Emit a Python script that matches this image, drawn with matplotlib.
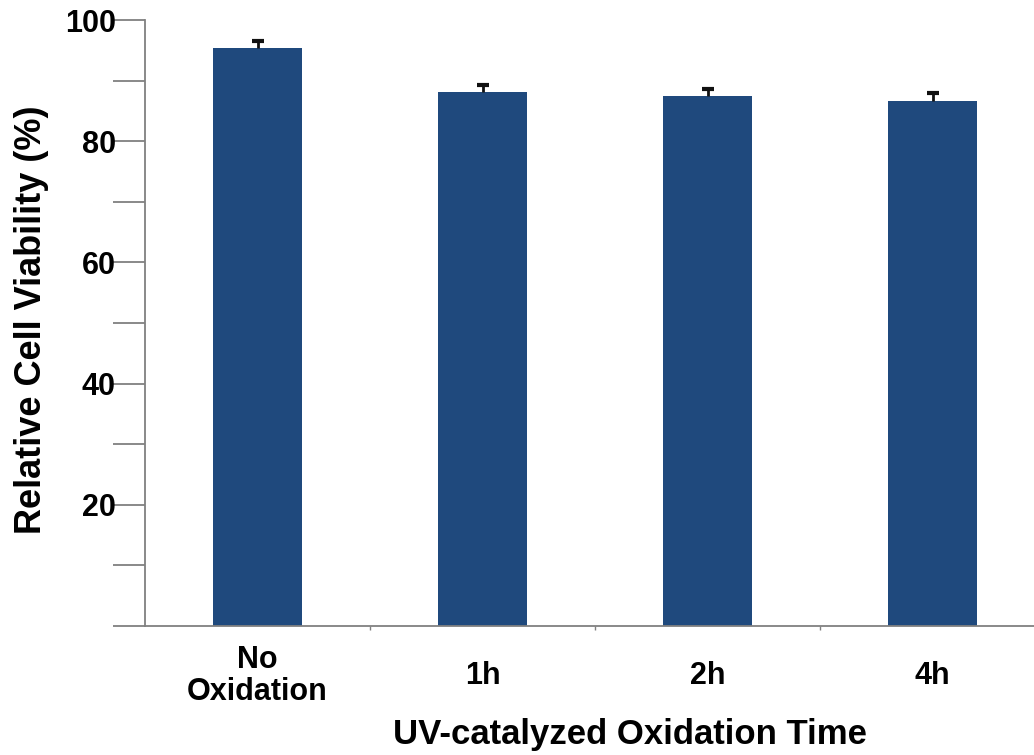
import matplotlib.pyplot as plt
from matplotlib.ticker import MultipleLocator, FixedLocator

# data
categories = ["No\nOxidation", "1h", "2h", "4h"]
viability = [95.4, 88.1, 87.5, 86.7]
err = [1.1, 1.1, 1.1, 1.2]

plt.rcParams['font.family'] = ['Liberation Sans', 'DejaVu Sans']
plt.rcParams['font.weight'] = 'bold'

fig = plt.figure(figsize=(10.34, 7.55), dpi=100)
ax = fig.add_axes([0.1402, 0.1709, 0.8598, 0.8026])

x = list(range(len(categories)))
ax.bar(x, viability, width=0.395, color='#1f497d', zorder=2)
# upper error bars only
ax.errorbar(x, viability, yerr=[[0] * len(err), err], fmt='none', ecolor='#111111',
            elinewidth=2, capsize=0, zorder=3)
tops = [v + e for v, e in zip(viability, err)]
ax.plot(x, tops, ls='none', marker='_', ms=8, mew=3, color='#111111', zorder=3)

ax.set_xlim(-0.5, 3.45)
ax.set_ylim(0, 100)

ax.yaxis.set_minor_locator(MultipleLocator(10))
ax.set_yticks([20, 40, 60, 80, 100])
ax.set_yticklabels(["20", "40", "60", "80", "100"])
ax.tick_params(axis='y', which='both', direction='out', length=23, width=1.3,
               color='#808080', labelsize=22, pad=-2)

ax.set_xticks(x)
ax.set_xticklabels(categories, fontsize=22, fontweight='bold', linespacing=1.05,
                   va='center')
ax.xaxis.set_minor_locator(FixedLocator([0.5, 1.5, 2.5]))
ax.tick_params(axis='x', which='major', length=0, pad=36)
ax.tick_params(axis='x', which='minor', length=3, width=1, color='#808080')

for s in ['top', 'right']:
    ax.spines[s].set_visible(False)
for s in ['left', 'bottom']:
    ax.spines[s].set_color('#808080')
    ax.spines[s].set_linewidth(1.3)

ax.set_xlabel("UV-catalyzed Oxidation Time", fontsize=25, fontweight='bold')
ax.xaxis.set_label_coords((630 - 145) / 889, -0.152)
ax.set_ylabel("Relative Cell Viability (%)", fontsize=26, fontweight='bold')
ax.yaxis.set_label_coords(-0.108, 0.505)

fig.savefig("out.png", dpi=100)
